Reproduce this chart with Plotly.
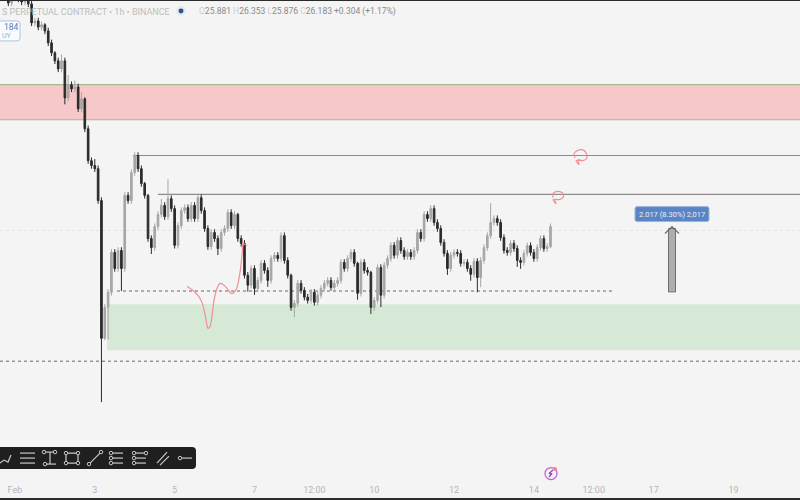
import pandas as pd
import plotly.graph_objects as go

BG = '#f4f4f4'
UP = '#a6a6a6'
DOWN = '#2a2a2a'
RED = '#f28f94'

# 2h candles, closes
closes = [33.45, 33.32, 33.14, 33.29, 33.39, 33.26, 33.17, 33.29, 33.11, 32.52,
          32.58, 32.39, 32.46, 32.27, 31.90, 31.59, 31.34, 31.09, 31.34, 30.19,
          30.60, 30.47, 30.53, 29.85, 30.16, 29.23, 28.24, 28.09, 27.99, 27.00,
          22.72, 23.68, 24.15, 25.39, 24.89, 25.45, 24.89, 27.16, 27.00, 27.87,
          28.40, 27.99, 27.53, 27.16, 25.82, 25.54, 26.19, 26.57, 26.85, 26.50,
          27.06, 26.75, 25.61, 26.22, 26.69, 26.78, 26.44, 26.85, 26.44, 27.09,
          26.69, 26.13, 25.57, 26.01, 25.82, 25.51, 26.01, 26.13, 26.63, 26.22,
          26.57, 25.82, 25.67, 24.68, 24.37, 24.89, 24.27, 24.52, 25.05, 24.83,
          24.52, 25.20, 25.30, 25.20, 25.91, 25.14, 24.68, 23.68, 23.81, 24.43,
          24.21, 24.00, 23.90, 24.15, 23.84, 24.06, 24.27, 24.43, 24.52, 24.30,
          24.43, 24.52, 25.08, 24.89, 25.20, 25.39, 25.05, 24.12, 25.08, 24.83,
          24.77, 23.68, 23.90, 24.92, 24.06, 24.99, 25.20, 25.61, 25.30, 25.76,
          25.45, 25.26, 25.39, 25.26, 25.45, 26.01, 25.82, 26.57, 26.44, 26.75,
          26.32, 26.13, 25.70, 25.36, 24.89, 25.30, 25.39, 25.36, 25.05, 25.08,
          24.89, 24.71, 25.11, 24.61, 25.14, 25.54, 25.91, 26.32, 26.44, 26.32,
          25.85, 25.45, 25.39, 25.67, 25.51, 25.14, 25.08, 25.36, 25.60, 25.39,
          25.20, 25.54, 25.82, 25.51, 25.57, 26.19]

# wick lengths above / below the body
upper_wick = [0.1, 0.1, 0.1, 0.1, 0.1, 0.1, 0.1, 0.1, 0.1, 0.1,
              0.1, 0.1, 0.1, 0.05, 0.1, 0.1, 0.05, 0.1, 0.2, 0.1,
              0.3, 0.1, 0.2, 0.1, 0.2, 0.05, 0.1, 0.1, 0.2, 0.1,
              0.1, 0.1, 0.1, 0.1, 0.1, 0.1, 0.1, 0.1, 0.1, 0.1,
              0.1, 0.1, 0.1, 0.05, 0.05, 0.1, 0.1, 0.1, 0.2, 0.1,
              0.6, 0.1, 0.1, 0.1, 0.1, 0.1, 0.1, 0.1, 0.1, 0.1,
              0.1, 0.1, 0.1, 0.1, 0.1, 0.1, 0.1, 0.1, 0.1, 0.1,
              0.1, 0.05, 0.1, 0.1, 0.1, 0.1, 0.1, 0.1, 0.1, 0.1,
              0.1, 0.1, 0.1, 0.1, 0.1, 0.1, 0.1, 0.05, 0.1, 0.1,
              0.1, 0.1, 0.1, 0.1, 0.1, 0.1, 0.1, 0.1, 0.1, 0.1,
              0.1, 0.1, 0.1, 0.1, 0.1, 0.1, 0.1, 0.05, 0.1, 0.1,
              0.1, 0.05, 0.1, 0.1, 0.1, 0.1, 0.1, 0.1, 0.1, 0.1,
              0.1, 0.1, 0.1, 0.1, 0.1, 0.1, 0.1, 0.1, 0.1, 0.1,
              0.1, 0.1, 0.1, 0.1, 0.1, 0.1, 0.1, 0.1, 0.1, 0.1,
              0.1, 0.1, 0.1, 0.1, 0.1, 0.1, 0.1, 0.6, 0.1, 0.1,
              0.1, 0.1, 0.1, 0.1, 0.1, 0.1, 0.1, 0.1, 0.1, 0.1,
              0.1, 0.1, 0.1, 0.1, 0.1, 0.1]
lower_wick = [0.1, 0.1, 0.1, 0.1, 0.1, 0.1, 0.1, 0.1, 0.1, 0.1,
              0.1, 0.1, 0.1, 0.1, 0.1, 0.1, 0.1, 0.1, 0.1, 0.2,
              0.1, 0.1, 0.1, 0.1, 0.1, 0.1, 0.1, 0.1, 0.1, 0.1,
              1.98, 0.06, 1.0, 0.1, 0.1, 0.1, 0.7, 0.1, 0.1, 0.1,
              0.1, 0.1, 0.1, 0.1, 0.1, 0.2, 0.1, 0.1, 0.1, 0.1,
              0.1, 0.1, 0.1, 0.1, 0.1, 0.1, 0.1, 0.1, 0.1, 0.1,
              0.1, 0.1, 0.1, 0.1, 0.1, 0.2, 0.1, 0.1, 0.1, 0.1,
              0.1, 0.1, 0.1, 0.1, 0.2, 0.1, 0.2, 0.1, 0.1, 0.1,
              0.2, 0.1, 0.1, 0.1, 0.1, 0.1, 0.1, 0.1, 0.3, 0.1,
              0.1, 0.1, 0.1, 0.1, 0.1, 0.1, 0.1, 0.1, 0.1, 0.1,
              0.1, 0.1, 0.1, 0.1, 0.1, 0.1, 0.1, 0.2, 0.1, 0.1,
              0.1, 0.2, 0.1, 0.1, 0.37, 0.1, 0.1, 0.1, 0.1, 0.1,
              0.1, 0.1, 0.1, 0.1, 0.1, 0.1, 0.1, 0.1, 0.1, 0.1,
              0.1, 0.1, 0.1, 0.1, 0.2, 0.1, 0.1, 0.1, 0.1, 0.1,
              0.1, 0.2, 0.1, 0.46, 0.3, 0.1, 0.1, 0.1, 0.1, 0.1,
              0.1, 0.1, 0.1, 0.1, 0.1, 0.2, 0.2, 0.1, 0.1, 0.1,
              0.1, 0.1, 0.1, 0.1, 0.1, 0.05]

# price levels of the drawings
supply_zone = [29.51, 30.60]
demand_zone = [22.35, 23.78]
resistance_levels = [28.40, 27.19]
dashed_levels = [24.19, 22.01]
last_price = 26.07

tick_vals = ['2022-02-01', '2022-02-03', '2022-02-05', '2022-02-07', '2022-02-08 12:00',
             '2022-02-10', '2022-02-12', '2022-02-14', '2022-02-15 12:00', '2022-02-17', '2022-02-19']
tick_text = ['Feb', '3', '5', '7', '12:00', '10', '12', '14', '12:00', '17', '19']

times = pd.date_range('2022-01-31 16:00', periods=len(closes), freq='2h')
opens = [closes[0]] + closes[:-1]
highs = [max(o, c) + w for o, c, w in zip(opens, closes, upper_wick)]
lows = [min(o, c) - w for o, c, w in zip(opens, closes, lower_wick)]

fig = go.Figure()
fig.add_trace(go.Candlestick(
    x=times, open=opens, high=highs, low=lows, close=closes,
    increasing=dict(line=dict(color=UP, width=1), fillcolor=UP),
    decreasing=dict(line=dict(color=DOWN, width=1), fillcolor=DOWN),
    whiskerwidth=0, showlegend=False, hoverinfo='skip'))


def sketch(xs, ys, color, width=1.0, shape='linear'):
    # freehand drawings, in screen pixels on the overlay axes
    fig.add_trace(go.Scatter(x=xs, y=ys, xaxis='x2', yaxis='y2', mode='lines',
                             line=dict(color=color, width=width, shape=shape, smoothing=0.8),
                             showlegend=False, hoverinfo='skip'))


def level(y, x0, color, width=1.0, dash='solid', x1=800):
    fig.add_shape(type='line', xref='x2', yref='y', x0=x0, x1=x1, y0=y, y1=y,
                  line=dict(color=color, width=width, dash=dash), layer='below')


def zone(bounds, x0, color):
    fig.add_shape(type='rect', xref='x2', yref='y', x0=x0, x1=800, y0=bounds[0], y1=bounds[1],
                  fillcolor=color, line_width=0, layer='below')


zone(supply_zone, 0, '#f7c8ca')
level(supply_zone[0], 0, '#a9b68f', 1)
level(supply_zone[1], 0, '#a9b68f', 1.2)
zone(demand_zone, 107, '#d6e8d6')
level(last_price, 0, '#e4e4e4', 1, 'dot')
level(resistance_levels[0], 133, '#8c8c8c', 1.2)
level(resistance_levels[1], 158, '#8c8c8c', 1.2)
level(dashed_levels[0], 117, '#666666', 1, '3px,3px', 614)
level(dashed_levels[1], 0, '#666666', 1, '3px,3px')

# pink pen drawings
sketch([187, 193, 198, 202, 205, 207, 208, 210, 212, 214, 217, 220, 223, 227, 231, 234, 237, 240, 242, 243],
       [286, 290, 295, 302, 314, 325, 328, 326, 316, 300, 288, 283, 284, 288, 293, 292, 287, 272, 255, 243],
       RED, 1.2, 'spline')
sketch([247, 243, 242], [245, 243, 248], RED, 1.2)
sketch([575, 574, 577, 582, 586, 587, 583, 578, 579, 576, 582],
       [157, 153, 150, 149, 152, 157, 160, 159, 164, 160, 160], RED, 1.2, 'spline')
sketch([553, 553, 556, 560, 563, 563, 559, 555, 556, 553, 558],
       [197, 193, 191, 191, 193, 197, 199, 199, 203, 199, 199], RED, 1.2, 'spline')

# measure arrow and its label
fig.add_shape(type='rect', xref='x2', yref='y2', x0=668.5, x1=675.5, y0=228, y1=291.5,
              fillcolor='#adadad', line=dict(color='#6e6e6e', width=1), layer='below')
sketch([665, 672, 679], [233, 226, 233], '#6e6e6e', 1.2)
fig.add_shape(type='path', xref='x2', yref='y2', line=dict(color='#9db6dc', width=1), fillcolor='#5a85c5',
              layer='below',
              path='M 637 206 L 707 206 Q 709 206 709 208 L 709 219 Q 709 221 707 221 '
                   'L 637 221 Q 635 221 635 219 L 635 208 Q 635 206 637 206 Z')
fig.add_annotation(xref='x2', yref='y2', x=672, y=213.5, text='2.017 (8.30%) 2,017', showarrow=False,
                   font=dict(family='Roboto', size=7.5, color='#e8eef8'))

# header
fig.add_annotation(xref='x2', yref='y2', x=0, y=11, xanchor='left', text='S PERPETUAL CONTRACT • 1h • BINANCE',
                   showarrow=False, font=dict(family='Roboto', size=9, color='#bcbcbc'))
fig.add_shape(type='circle', xref='x2', yref='y2', x0=176, x1=186, y0=5, y1=15, fillcolor='#e3ebf3', line_width=0, layer='below')
fig.add_shape(type='circle', xref='x2', yref='y2', x0=178.5, x1=183.5, y0=7.5, y1=12.5, fillcolor='#35557f', line_width=0, layer='below')
ohlc = ''.join(f'<span style="color:#cfcfcf">{k}</span>{v} ' for k, v in
               [('O', '25.881'), ('H', '26.353'), ('L', '25.876'), ('C', '26.183')]) + '+0.304 (+1.17%)'
fig.add_annotation(xref='x2', yref='y2', x=197, y=11, xanchor='left', text=ohlc, showarrow=False,
                   font=dict(family='Roboto', size=8.5, color='#8a8a8a'))
fig.add_shape(type='path', xref='x2', yref='y2', line=dict(color='#a9c4ea', width=1), fillcolor='#fafbfd', layer='below',
              path='M -5 20 L 17 20 Q 20 20 20 23 L 20 37 Q 20 40 17 40 L -5 40 Z')
fig.add_annotation(xref='x2', yref='y2', x=2, y=26.5, xanchor='left', text='184', showarrow=False,
                   font=dict(family='Roboto', size=8.5, color='#4d7fc9'))
fig.add_annotation(xref='x2', yref='y2', x=0, y=35, xanchor='left', text='UY', showarrow=False,
                   font=dict(family='Roboto', size=7, color='#8fb0de'))

# drawing toolbar
fig.add_shape(type='path', xref='x2', yref='y2', line_width=0, fillcolor='#1f1f1f', layer='below',
              path='M -5 447 L 192 447 Q 196 447 196 451 L 196 465 Q 196 469 192 469 L -5 469 Z')
tool_x, tool_y = [], []
tool_lines = [[(0, 463), (4, 460), (8, 462), (11, 455)],
              [(20, 453), (35, 453)], [(20, 458), (35, 458)], [(20, 463), (35, 463)],
              [(44, 452), (55, 452)], [(50, 452), (50, 464)], [(45, 464), (56, 464)],
              [(66, 453), (78, 453), (78, 463), (66, 463), (66, 453)],
              [(89, 464), (101, 452)],
              [(111, 453), (123, 453)], [(111, 458), (123, 458)], [(111, 463), (123, 463)],
              [(134, 453), (146, 453)], [(134, 458), (146, 458)], [(134, 463), (146, 463)],
              [(157, 463), (167, 452)], [(160, 465), (169, 456)],
              [(180, 458), (192, 458)]]
tool_nodes = [(44, 452), (55, 452), (45, 464), (66, 453), (78, 453), (78, 463), (66, 463), (89, 464), (101, 452),
              (111, 453), (111, 458), (111, 463), (134, 453), (134, 458), (134, 463), (146, 453), (180, 458)]
for seg in tool_lines:
    tool_x += [p[0] for p in seg] + [None]
    tool_y += [p[1] for p in seg] + [None]
sketch(tool_x, tool_y, '#c8c8c8', 1.2)
fig.add_trace(go.Scatter(x=[p[0] for p in tool_nodes], y=[p[1] for p in tool_nodes], xaxis='x2', yaxis='y2',
                         mode='markers', marker=dict(size=3.5, color='#1f1f1f', line=dict(color='#c8c8c8', width=1)),
                         showlegend=False, hoverinfo='skip'))

# event badge above the time axis
fig.add_shape(type='circle', xref='x2', yref='y2', x0=545, x1=557, y0=467.5, y1=479.5, layer='below',
              fillcolor=BG, line=dict(color='#c266d8', width=1.3))
sketch([553, 549, 552, 549], [470, 473.5, 473.5, 477], '#a040c0', 1.3)
fig.add_shape(type='circle', xref='x2', yref='y2', x0=553, x1=557, y0=467, y1=471, fillcolor='#f08a8a', line_width=0)

fig.update_layout(
    width=800, height=500, margin=dict(l=0, r=0, t=1, b=2), paper_bgcolor='#2a2a2a', plot_bgcolor=BG,
    showlegend=False,
    xaxis=dict(type='date', range=['2022-01-31 15:00', '2022-02-20 16:00'], rangeslider_visible=False,
               tickmode='array', tickvals=tick_vals, ticktext=tick_text, ticklabelposition='inside',
               tickfont=dict(family='Roboto', size=9, color='#b5b5b5'), ticks='', showgrid=False, zeroline=False),
    yaxis=dict(range=[17.76, 33.2], visible=False, showgrid=False, zeroline=False),
    xaxis2=dict(range=[0, 800], overlaying='x', anchor='y2', visible=False),
    yaxis2=dict(range=[498, 0], overlaying='y', anchor='x2', visible=False),
)

# the page's default body margin would push the chart 8px off
fig.write_html("out.html", post_script="document.body.style.margin='0';", config=dict(displayModeBar=False))
